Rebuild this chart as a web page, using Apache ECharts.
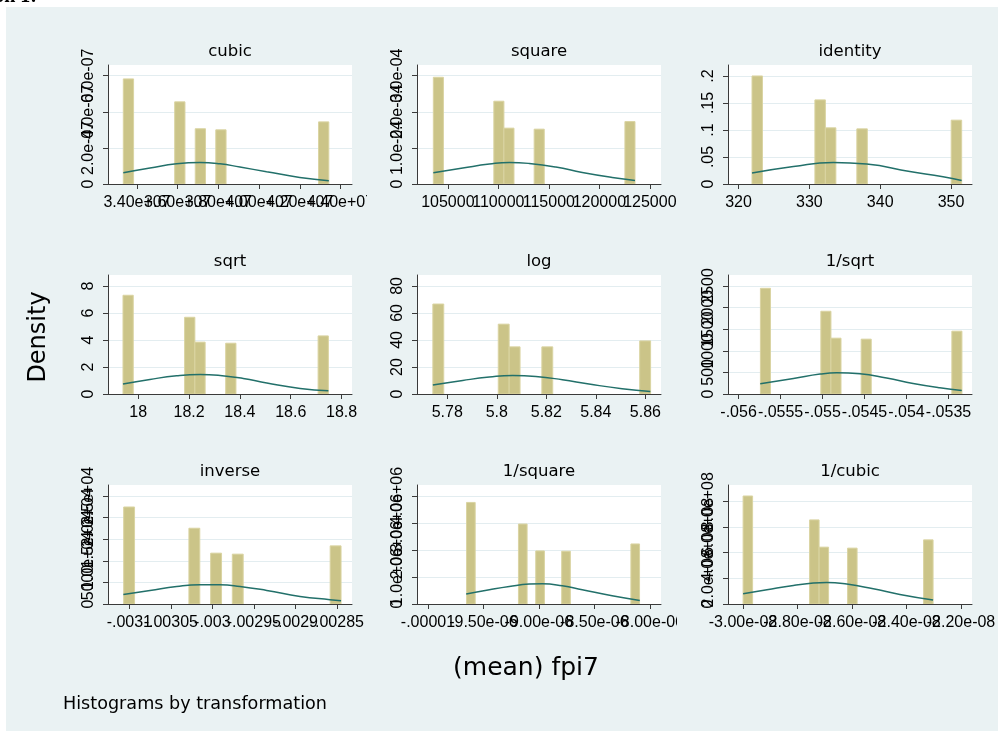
<!DOCTYPE html>
<html><head><meta charset="utf-8">
<script src="https://cdn.jsdelivr.net/npm/echarts@6/dist/echarts.min.js"></script>
<style>html,body{margin:0;padding:0;background:#fff}#c{width:998px;height:731px}</style>
</head><body><div id="c"></div><script>
// ---------- data ----------
const titles = ['cubic','square','identity','sqrt','log','1/sqrt','inverse','1/square','1/cubic'];

const xMin = [3.2575e7, 101943, 318.51, 17.881, 5.7678, -0.056126, -0.0031257, -1.00987e-5, -3.0549e-8];
const xMax = [4.4565e7, 126105, 352.96, 18.841, 5.8663, -0.053220, -0.0028317, -7.8986e-6, -2.1597e-8];
const yMax = [6.59e-7, 3.296e-4, 0.2203, 8.81, 88.1, 2754, 27538, 4.41e6, 9.266e8];

const xTicks = [
  [3.4e7, 3.6e7, 3.8e7, 4.0e7, 4.2e7, 4.4e7],
  [105000, 110000, 115000, 120000, 125000],
  [320, 330, 340, 350],
  [18, 18.2, 18.4, 18.6, 18.8],
  [5.78, 5.8, 5.82, 5.84, 5.86],
  [-0.056, -0.0555, -0.055, -0.0545, -0.054, -0.0535],
  [-0.0031, -0.00305, -0.003, -0.00295, -0.0029, -0.00285],
  [-1e-5, -9.5e-6, -9e-6, -8.5e-6, -8e-6],
  [-3e-8, -2.8e-8, -2.6e-8, -2.4e-8, -2.2e-8]
];
const xTickLabels = [
  ['3.40e+07','3.60e+07','3.80e+07','4.00e+07','4.20e+07','4.40e+07'],
  ['105000','110000','115000','120000','125000'],
  ['320','330','340','350'],
  ['18','18.2','18.4','18.6','18.8'],
  ['5.78','5.8','5.82','5.84','5.86'],
  ['-.056','-.0555','-.055','-.0545','-.054','-.0535'],
  ['-.0031','-.00305','-.003','-.00295','-.0029','-.00285'],
  ['-.00001','-9.50e-06','-9.00e-06','-8.50e-06','-8.00e-06'],
  ['-3.00e-08','-2.80e-08','-2.60e-08','-2.40e-08','-2.20e-08']
];
const yTicks = [
  [0, 2e-7, 4e-7, 6e-7],
  [0, 1e-4, 2e-4, 3e-4],
  [0, 0.05, 0.1, 0.15, 0.2],
  [0, 2, 4, 6, 8],
  [0, 20, 40, 60, 80],
  [0, 500, 1000, 1500, 2000, 2500],
  [0, 5000, 10000, 15000, 20000, 25000],
  [0, 1e6, 2e6, 3e6, 4e6],
  [0, 2e8, 4e8, 6e8, 8e8]
];
const yTickLabels = [
  ['0','2.0e-07','4.0e-07','6.0e-07'],
  ['0','1.0e-04','2.0e-04','3.0e-04'],
  ['0','.05','.1','.15','.2'],
  ['0','2','4','6','8'],
  ['0','20','40','60','80'],
  ['0','500','1000','1500','2000','2500'],
  ['0','5000','1.0e+04','1.5e+04','2.0e+04','2.5e+04'],
  ['0','1.0e+06','2.0e+06','3.0e+06','4.0e+06'],
  ['0','2.0e+08','4.0e+08','6.0e+08','8.0e+08']
];

const binStart = [
  [3.3327e7, 3.5852e7, 3.6862e7, 3.7872e7, 4.2921e7],
  [103560, 109551, 110549, 113545, 122532],
  [321.90, 330.78, 332.26, 336.70, 350.02],
  [17.940, 18.1824, 18.2228, 18.344, 18.7076],
  [5.7742, 5.8006, 5.8050, 5.8182, 5.8577],
  [-0.05574, -0.05502, -0.05490, -0.05454, -0.05346],
  [-0.0031068, -0.0030282, -0.0030020, -0.0029759, -0.0028580],
  [-9.652e-6, -9.184e-6, -9.028e-6, -8.794e-6, -8.170e-6],
  [-2.9995e-8, -2.75555e-8, -2.7207e-8, -2.61615e-8, -2.33735e-8]
];
const binEnd = [
  [3.3832e7, 3.6357e7, 3.7366e7, 3.8376e7, 4.3426e7],
  [104559, 110549, 111548, 114544, 123530],
  [323.38, 332.26, 333.74, 338.18, 351.50],
  [17.9804, 18.2228, 18.2632, 18.3844, 18.748],
  [5.7786, 5.8050, 5.8094, 5.8226, 5.8621],
  [-0.05562, -0.05490, -0.05478, -0.05442, -0.05334],
  [-0.0030937, -0.0030151, -0.0029889, -0.0029628, -0.0028449],
  [-9.574e-6, -9.106e-6, -8.950e-6, -8.716e-6, -8.092e-6],
  [-2.96465e-8, -2.7207e-8, -2.68585e-8, -2.5813e-8, -2.3025e-8]
];
const binDensity = [
  [5.82e-7, 4.55e-7, 3.06e-7, 3.00e-7, 3.44e-7],
  [2.956e-4, 2.293e-4, 1.547e-4, 1.519e-4, 1.729e-4],
  [0.2000, 0.1557, 0.1040, 0.1021, 0.1182],
  [7.31, 5.68, 3.84, 3.76, 4.30],
  [66.6, 51.7, 34.9, 34.9, 39.3],
  [2446, 1915, 1292, 1269, 1454],
  [22450, 17536, 11767, 11536, 13452],
  [3.764e6, 2.963e6, 1.967e6, 1.956e6, 2.225e6],
  [8.41e8, 6.548e8, 4.427e8, 4.35e8, 4.994e8]
];

const curveX = [
  [3.3327e7, 3.4638e7, 3.5949e7, 3.7093e7, 3.8075e7, 3.9057e7, 4.0367e7, 4.2000e7, 4.3426e7],
  [103560, 106479, 109112, 111085, 113057, 115690, 118314, 121272, 123530],
  [321.9, 327.75, 333.38, 338.08, 344.18, 348.87, 351.5],
  [17.940, 18.046, 18.151, 18.243, 18.322, 18.413, 18.506, 18.637, 18.748],
  [5.77421, 5.78627, 5.79700, 5.80637, 5.81578, 5.82647, 5.83721, 5.85059, 5.86201],
  [-0.055742, -0.055346, -0.055029, -0.054831, -0.054554, -0.054237, -0.053921, -0.053603, -0.053342],
  [-0.0031072, -0.0030751, -0.0030429, -0.0030148, -0.0029907, -0.0029666, -0.0029345, -0.0028943, -0.0028582, -0.0028449],
  [-9.6553e-6, -9.4461e-6, -9.2666e-6, -9.0871e-6, -8.9677e-6, -8.7882e-6, -8.6086e-6, -8.3393e-6, -8.0898e-6],
  [-2.9995e-8, -2.9122e-8, -2.8148e-8, -2.7416e-8, -2.6926e-8, -2.6194e-8, -2.5220e-8, -2.4243e-8, -2.3025e-8]
];
const curveY = [
  [0.624e-7, 0.884e-7, 1.121e-7, 1.193e-7, 1.121e-7, 0.939e-7, 0.680e-7, 0.365e-7, 0.182e-7],
  [0.312e-4, 0.442e-4, 0.552e-4, 0.597e-4, 0.569e-4, 0.470e-4, 0.320e-4, 0.182e-4, 0.099e-4],
  [0.0203, 0.0325, 0.0399, 0.0369, 0.0232, 0.0135, 0.0066],
  [0.738, 1.078, 1.351, 1.447, 1.373, 1.151, 0.812, 0.413, 0.244],
  [6.64, 10.04, 12.55, 13.73, 12.99, 10.55, 7.38, 3.91, 1.92],
  [238, 360, 461, 491, 468, 369, 245, 145, 83],
  [2215, 3138, 4061, 4453, 4453, 4061, 3138, 1754, 992, 761],
  [0.369e6, 0.528e6, 0.649e6, 0.738e6, 0.749e6, 0.675e6, 0.528e6, 0.306e6, 0.133e6],
  [0.80e8, 1.111e8, 1.445e8, 1.631e8, 1.678e8, 1.553e8, 1.188e8, 0.746e8, 0.311e8]
];

const yAxisTitle = 'Density';
const xAxisTitle = '(mean) fpi7';
const noteText = 'Histograms by transformation';
const cornerText = 'on 1:';

// ---------- layout / style ----------
const colLeft = [108, 417, 728];
const rowTop = [65, 275, 485];
const gridW = 244, gridH = 119;
const BG = '#eaf2f3';
const AXIS = '#3a3a3a';
const BAR_FILL = '#cbc488';
const BAR_EDGE = '#dad4a2';
const CURVE = '#22706a';
const TICKFONT = '"Liberation Sans", Arial, sans-serif';
const TEXTFONT = '"DejaVu Sans", sans-serif';
const LABEL_MARGIN = 11;

const grids = [], xAxes = [], yAxes = [], series = [], graphics = [];
for (let i = 0; i < 9; i++) {
  const r = Math.floor(i / 3), c = i % 3;
  grids.push({left: colLeft[c], top: rowTop[r], width: gridW, height: gridH,
    show: true, backgroundColor: '#ffffff', borderWidth: 0, containLabel: false});
  xAxes.push({type: 'value', gridIndex: i, min: xMin[i], max: xMax[i],
    axisLine: {show: true, onZero: false, lineStyle: {color: AXIS, width: 1}},
    axisTick: {show: true, length: 5, customValues: xTicks[i], lineStyle: {color: AXIS}},
    axisLabel: {show: false},
    splitLine: {show: false}});
  yAxes.push({type: 'value', gridIndex: i, min: 0, max: yMax[i],
    axisLine: {show: true, onZero: false, lineStyle: {color: AXIS, width: 1}},
    axisTick: {show: true, length: 5, customValues: yTicks[i], lineStyle: {color: AXIS}},
    axisLabel: {show: false},
    splitLine: {show: true, lineStyle: {color: '#e3edf0', width: 1}}});
  const bars = binStart[i].map((s, k) => [s, binEnd[i][k], binDensity[i][k]]);
  series.push({type: 'custom', xAxisIndex: i, yAxisIndex: i, data: bars,
    encode: {x: [0, 1], y: 2}, clip: true, z: 2,
    renderItem: function (params, api) {
      const p0 = api.coord([api.value(0), api.value(2)]);
      const p1 = api.coord([api.value(1), 0]);
      return {type: 'rect',
        shape: {x: p0[0], y: p0[1], width: p1[0] - p0[0], height: p1[1] - p0[1]},
        style: {fill: BAR_FILL, stroke: BAR_EDGE, lineWidth: 1}};
    }});
  series.push({type: 'line', xAxisIndex: i, yAxisIndex: i, z: 3,
    data: curveX[i].map((x, k) => [x, curveY[i][k]]),
    smooth: 0.5, showSymbol: false, symbol: 'none',
    lineStyle: {color: CURVE, width: 1.5}});
  graphics.push({type: 'text', x: colLeft[c] + gridW / 2, y: rowTop[r] - 13,
    style: {text: titles[i], fontSize: 16.5, fontFamily: TEXTFONT, fill: '#000',
      align: 'center', verticalAlign: 'middle'}});
}
graphics.push({type: 'rect', z: 101, shape: {x: 0, y: 0, width: 998, height: 7}, style: {fill: '#fff'}});
graphics.push({type: 'rect', z: 101, shape: {x: 0, y: 0, width: 6, height: 731}, style: {fill: '#fff'}});
graphics.push({type: 'text', z: 102, x: 37, y: 7,
  style: {text: cornerText, fontSize: 20, fontWeight: 'bold', fontFamily: '"Liberation Serif", serif',
    fill: '#000', align: 'right', verticalAlign: 'bottom'}});
graphics.push({type: 'text', x: 39, y: 337, rotation: Math.PI / 2,
  style: {text: yAxisTitle, fontSize: 24, fontFamily: TEXTFONT, fill: '#000', align: 'center', verticalAlign: 'middle'}});
graphics.push({type: 'text', x: 526, y: 668,
  style: {text: xAxisTitle, fontSize: 25, fontFamily: TEXTFONT, fill: '#000', align: 'center', verticalAlign: 'middle'}});
graphics.push({type: 'text', x: 63, y: 704,
  style: {text: noteText, fontSize: 17.6, fontFamily: TEXTFONT, fill: '#000', align: 'left', verticalAlign: 'middle'}});

const chart = echarts.init(document.getElementById('c'), null, {renderer: 'canvas'});
chart.setOption({
  animation: false,
  backgroundColor: BG,
  grid: grids, xAxis: xAxes, yAxis: yAxes, series: series,
  graphic: {elements: graphics}
});

// tick labels placed through the axes' own scales (all shown, overlapping like the original)
const tickLabelEls = [];
for (let i = 0; i < 9; i++) {
  const r = Math.floor(i / 3), c = i % 3;
  const axisY = chart.convertToPixel({yAxisIndex: i}, 0);
  const axisX = chart.convertToPixel({xAxisIndex: i}, xMin[i]);
  xTicks[i].forEach((v, k) => {
    tickLabelEls.push({type: 'text', z: 50, x: chart.convertToPixel({xAxisIndex: i}, v), y: axisY + LABEL_MARGIN,
      style: {text: xTickLabels[i][k], fontSize: 16, fontFamily: TICKFONT, fill: '#000', align: 'center', verticalAlign: 'top'}});
  });
  yTicks[i].forEach((v, k) => {
    tickLabelEls.push({type: 'text', z: 50, x: axisX - LABEL_MARGIN, y: chart.convertToPixel({yAxisIndex: i}, v),
      rotation: Math.PI / 2,
      style: {text: yTickLabels[i][k], fontSize: 16, fontFamily: TICKFONT, fill: '#000', align: 'center', verticalAlign: 'bottom'}});
  });
}
// subgraph borders clip the overflowing tick labels
const clipX = [367, 677];
for (let r = 0; r < 3; r++) {
  for (let k = 0; k < 2; k++) {
    tickLabelEls.push({type: 'rect', z: 100,
      shape: {x: clipX[k], y: rowTop[r] + gridH + 6, width: 20, height: 24},
      style: {fill: BG}});
  }
}
chart.setOption({graphic: {elements: graphics.concat(tickLabelEls)}});
</script></body></html>
